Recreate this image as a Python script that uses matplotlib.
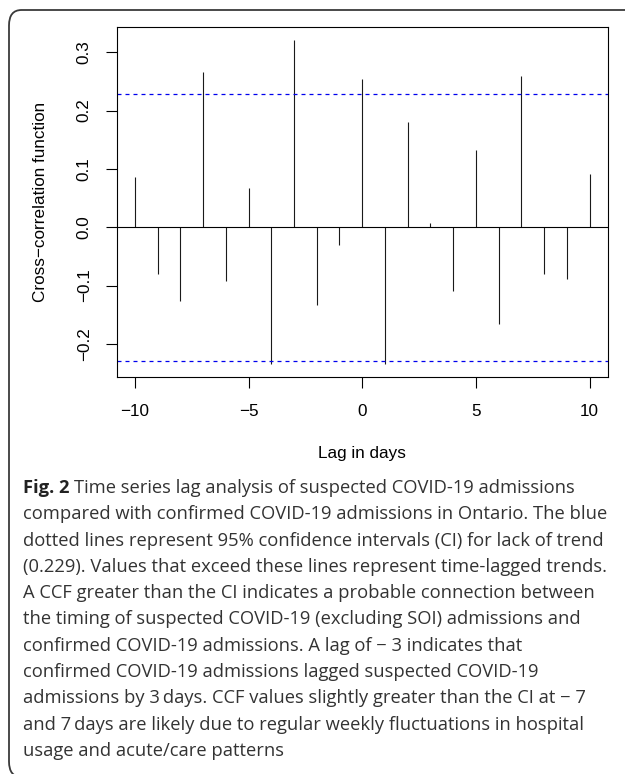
import matplotlib
matplotlib.use('Agg')
import matplotlib.pyplot as plt
from matplotlib.patches import FancyBboxPatch

lags = [-10, -9, -8, -7, -6, -5, -4, -3, -2, -1, 0, 1, 2, 3, 4, 5, 6, 7, 8, 9, 10]
ccf = [0.086, -0.080, -0.127, 0.266, -0.093, 0.067, -0.235, 0.321, -0.134, -0.031,
       0.254, -0.234, 0.181, 0.007, -0.109, 0.132, -0.166, 0.259, -0.080, -0.088, 0.091]
ci = 0.229
xticks = [-10, -5, 0, 5, 10]
yticks = [-0.2, -0.1, 0.0, 0.1, 0.2, 0.3]

caption = [
    "Time series lag analysis of suspected COVID-19 admissions",
    "compared with confirmed COVID-19 admissions in Ontario. The blue",
    "dotted lines represent 95% confidence intervals (CI) for lack of trend",
    "(0.229). Values that exceed these lines represent time-lagged trends.",
    "A CCF greater than the CI indicates a probable connection between",
    "the timing of suspected COVID-19 (excluding SOI) admissions and",
    "confirmed COVID-19 admissions. A lag of \u2212 3 indicates that",
    "confirmed COVID-19 admissions lagged suspected COVID-19",
    "admissions by 3\u2009days. CCF values slightly greater than the CI at \u2212 7",
    "and 7\u2009days are likely due to regular weekly fluctuations in hospital",
    "usage and acute/care patterns",
]

W, H = 625, 774
fig = plt.figure(figsize=(W / 100, H / 100), dpi=100)
plt.rcParams['font.family'] = ['Liberation Sans', 'DejaVu Sans']

# rounded frame (right side and bottom edge run off the page)
frame = FancyBboxPatch((9 / W, 1 - 777 / H), 700 / W, 767 / H,
                       boxstyle='round,pad=0,rounding_size=0.02',
                       transform=fig.transFigure, fill=False,
                       edgecolor='#3a3a3a', lw=1.3, clip_on=False)
fig.patches.append(frame)

ax = fig.add_axes([116.7 / W, 1 - 377.3 / H, (607.7 - 116.7) / W, (377.3 - 27) / H])

ax.vlines(lags, 0, ccf, color='#1a1a1a', lw=0.8)
ax.axhline(0, color='black', lw=0.8)
ax.axhline(ci, color='#0000ee', lw=0.9, linestyle=(0, (3.2, 3.2)))
ax.axhline(-ci, color='#0000ee', lw=0.9, linestyle=(0, (3.2, 3.2)))

lo = min(min(ccf), -ci)
hi = max(max(ccf), ci)
pad = 0.04 * (hi - lo)
ax.set_ylim(lo - pad, hi + pad)
ax.set_xlim(-10.8, 10.8)

ax.set_xticks(xticks)
ax.set_xticklabels([str(t).replace('-', '\u2212') for t in xticks])
ax.set_yticks(yticks)
ax.set_yticklabels([('%.1f' % t).replace('-', '\u2212') for t in yticks],
                   rotation=90, va='center')
ax.tick_params(length=8, width=0.8, labelsize=12.3)
ax.tick_params(axis='x', pad=11)
ax.tick_params(axis='y', pad=10)
for s in ax.spines.values():
    s.set_linewidth(0.8)

ax.set_xlabel('Lag in days', fontsize=12.3, labelpad=20)
ax.set_ylabel('Cross\u2212correlation function', fontsize=12.3, labelpad=21)

# caption
cap_font = ['Open Sans', 'DejaVu Sans']
cap_size = 13.2
x0 = 23 / W
y0 = 488
step = 26.3
fig.canvas.draw()
r = fig.canvas.get_renderer()
t = fig.text(x0, 1 - y0 / H, 'Fig. 2', fontsize=cap_size, fontweight='bold',
             family=cap_font, color='#222222', va='center')
bb = t.get_window_extent(renderer=r)
fig.text(bb.x1 / W + 5 / W, 1 - y0 / H, caption[0], fontsize=cap_size,
         family=cap_font, color='#333333', va='center')
for i, line in enumerate(caption[1:], start=1):
    fig.text(x0, 1 - (y0 + i * step) / H, line, fontsize=cap_size,
             family=cap_font, color='#333333', va='center')

fig.savefig('out.png', dpi=100)
